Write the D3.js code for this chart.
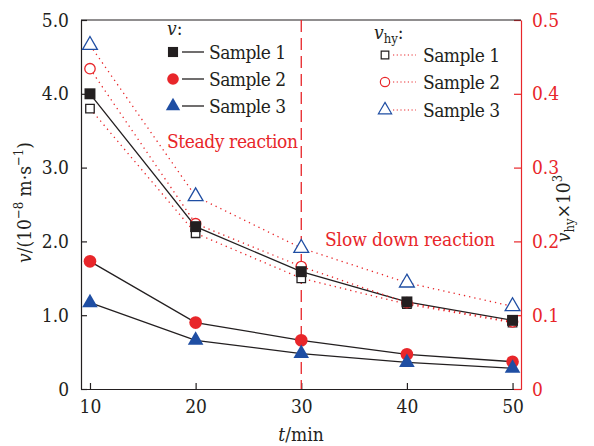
<!DOCTYPE html>
<html><head><meta charset="utf-8">
<script src="https://cdn.jsdelivr.net/npm/d3@7"></script>
<style>body{margin:0;background:#fff}svg{display:block}</style>
</head><body><svg id="c" width="594" height="446"></svg>
<script>
const times = [10, 20, 30, 40, 50];
const vSample1 = [4.0, 2.20, 1.59, 1.18, 0.93];
const vSample2 = [1.73, 0.90, 0.66, 0.47, 0.37];
const vSample3 = [1.17, 0.66, 0.48, 0.36, 0.28];
const vhySample1 = [0.380, 0.211, 0.150, 0.115, 0.090];
const vhySample2 = [0.434, 0.224, 0.166, 0.117, 0.091];
const vhySample3 = [0.466, 0.261, 0.191, 0.144, 0.112];
const leftTicks = [0, 1, 2, 3, 4, 5];
const leftTickLabels = ["0", "1.0", "2.0", "3.0", "4.0", "5.0"];
const rightTicks = [0, 0.1, 0.2, 0.3, 0.4, 0.5];
const rightTickLabels = ["0", "0.1", "0.2", "0.3", "0.4", "0.5"];
const sampleNames = ["Sample 1", "Sample 2", "Sample 3"];
const regionLabels = ["Steady reaction", "Slow down reaction"];
const boundaryTime = 30;

const RED = "#e8262a", BLUE = "#1f4ea3", BLACK = "#231f20";
const FONT = '"DejaVu Serif Condensed","DejaVu Serif"';
const svg = d3.select("#c");
const L = 81, R = 521, T = 20, B = 389;
const x = d3.scaleLinear().domain([9.15, 50.8]).range([L, R]);
const yL = d3.scaleLinear().domain([0, 5]).range([B, T]);
const yR = d3.scaleLinear().domain([0, 0.5]).range([B, T]);
const FS = 19;
const SUB = 13;

// axes
const gx = svg.append("g").attr("transform", `translate(0,${B})`)
  .call(d3.axisBottom(x).tickValues(times).tickSizeInner(-6).tickSizeOuter(0).tickPadding(11).tickFormat(d3.format("d")));
const gl = svg.append("g").attr("transform", `translate(${L},0)`)
  .call(d3.axisLeft(yL).tickValues(leftTicks).tickSizeInner(-6).tickSizeOuter(0).tickPadding(12).tickFormat((d,i)=>leftTickLabels[i]));
const gr = svg.append("g").attr("transform", `translate(${R},0)`)
  .call(d3.axisRight(yR).tickValues(rightTicks).tickSizeInner(-7).tickSizeOuter(0).tickPadding(11).tickFormat((d,i)=>rightTickLabels[i]));
[gx, gl].forEach(g => { g.selectAll("path,line").attr("stroke", BLACK).attr("stroke-width", 1.2);
  g.selectAll("text").attr("fill", BLACK).attr("font-size", FS); });
gr.selectAll("path,line").attr("stroke", RED).attr("stroke-width", 1.2);
gr.selectAll("text").attr("fill", RED).attr("font-size", FS);
// top frame
svg.append("line").attr("x1", L).attr("x2", R).attr("y1", T).attr("y2", T).attr("stroke", BLACK).attr("stroke-width", 1.2);

// boundary dashed line
svg.append("line").attr("x1", x(boundaryTime)).attr("x2", x(boundaryTime)).attr("y1", T).attr("y2", B)
  .attr("stroke", RED).attr("stroke-width", 1.3).attr("stroke-dasharray", "12,6");

// region labels
svg.append("text").attr("x", 167).attr("y", 148).attr("fill", RED).attr("font-size", FS).attr("textLength", 131).text(regionLabels[0]);
svg.append("text").attr("x", 325).attr("y", 246).attr("fill", RED).attr("font-size", FS).attr("textLength", 170).text(regionLabels[1]);

const line = d3.line().x((d,i)=>x(times[i]));
const vSeries = [vSample1, vSample2, vSample3];
const vhySeries = [vhySample1, vhySample2, vhySample3];
const colors = [BLACK, RED, BLUE];
const shapes = [d3.symbolSquare, d3.symbolCircle, d3.symbolTriangle];
const fillSizes = [120, 125, 105];
const openSizes = [72, 85, 95];

// solid lines for v
vSeries.forEach(s => svg.append("path").datum(s).attr("fill", "none").attr("stroke", BLACK).attr("stroke-width", 1.3)
  .attr("d", line.y(d=>yL(d))));
// dotted lines for v_hy
vhySeries.forEach(s => svg.append("path").datum(s).attr("fill", "none").attr("stroke", RED).attr("stroke-width", 1.3)
  .attr("stroke-dasharray", "1.3,4").attr("d", line.y(d=>yR(d))));

// markers
vhySeries.forEach((s, k) => svg.append("g").selectAll("path").data(s).join("path")
  .attr("transform", (d,i)=>`translate(${x(times[i])},${yR(d)})`)
  .attr("d", d3.symbol(shapes[k], openSizes[k])).attr("fill", "#fff").attr("stroke", colors[k]).attr("stroke-width", 1.3));
vSeries.forEach((s, k) => svg.append("g").selectAll("path").data(s).join("path")
  .attr("transform", (d,i)=>`translate(${x(times[i])},${yL(d)})`)
  .attr("d", d3.symbol(shapes[k], fillSizes[k])).attr("fill", colors[k]));

// left legend
const lg = svg.append("g");
const lt = lg.append("text").attr("x", 167).attr("y", 35).attr("font-size", FS).attr("fill", BLACK);
lt.append("tspan").attr("font-style", "italic").text("v");
lt.append("tspan").text(":");
[52, 79, 106].forEach((yy, k) => {
  lg.append("path").attr("transform", `translate(173,${yy})`).attr("d", d3.symbol(shapes[k], fillSizes[k]*0.85)).attr("fill", colors[k]);
  lg.append("line").attr("x1", 182).attr("x2", 204).attr("y1", yy).attr("y2", yy).attr("stroke", BLACK).attr("stroke-width", 1.3);
  lg.append("text").attr("x", 209).attr("y", yy + 7).attr("font-size", FS).attr("fill", BLACK).attr("textLength", 77).text(sampleNames[k]);
});
// right legend
const rt = lg.append("text").attr("x", 374).attr("y", 39).attr("font-size", FS).attr("fill", BLACK);
rt.append("tspan").attr("font-style", "italic").text("v");
rt.append("tspan").attr("font-size", SUB).attr("dy", 4).text("hy");
rt.append("tspan").attr("dy", -4).text(":");
[55, 82, 110].forEach((yy, k) => {
  lg.append("path").attr("transform", `translate(385,${yy})`).attr("d", d3.symbol(shapes[k], openSizes[k]*0.8)).attr("fill", "#fff").attr("stroke", colors[k]).attr("stroke-width", 1.2);
  lg.append("line").attr("x1", 393).attr("x2", 416).attr("y1", yy).attr("y2", yy).attr("stroke", RED).attr("stroke-width", 1.2).attr("stroke-dasharray", "1.2,2.5");
  lg.append("text").attr("x", 423).attr("y", yy + 7).attr("font-size", FS).attr("fill", BLACK).attr("textLength", 77).text(sampleNames[k]);
});

// axis titles
const yl = svg.append("text").attr("transform", `translate(31,${(T+B)/2 - 2}) rotate(-90)`).attr("text-anchor", "middle")
  .attr("font-size", FS).attr("fill", BLACK);
yl.append("tspan").attr("font-style", "italic").text("v");
yl.append("tspan").text("/(10");
yl.append("tspan").attr("font-size", SUB).attr("dy", -8).text("−8");
yl.append("tspan").attr("dy", 8).text(" m·s");
yl.append("tspan").attr("font-size", SUB).attr("dy", -8).text("−1");
yl.append("tspan").attr("dy", 8).text(")");

const yr = svg.append("text").attr("transform", `translate(570,${(T+B)/2 + 4}) rotate(-90)`).attr("text-anchor", "middle")
  .attr("font-size", FS).attr("fill", BLACK);
yr.append("tspan").attr("font-style", "italic").text("v");
yr.append("tspan").attr("font-size", SUB).attr("dy", 4).text("hy");
yr.append("tspan").attr("dy", -4).text("×10");
yr.append("tspan").attr("font-size", SUB).attr("dy", -8).text("3");

const xt = svg.append("text").attr("x", (L+R)/2).attr("y", 441).attr("text-anchor", "middle").attr("font-size", FS).attr("fill", BLACK);
xt.append("tspan").attr("font-style", "italic").text("t");
xt.append("tspan").text("/min");
svg.selectAll("text").attr("font-family", FONT);
</script></body></html>
